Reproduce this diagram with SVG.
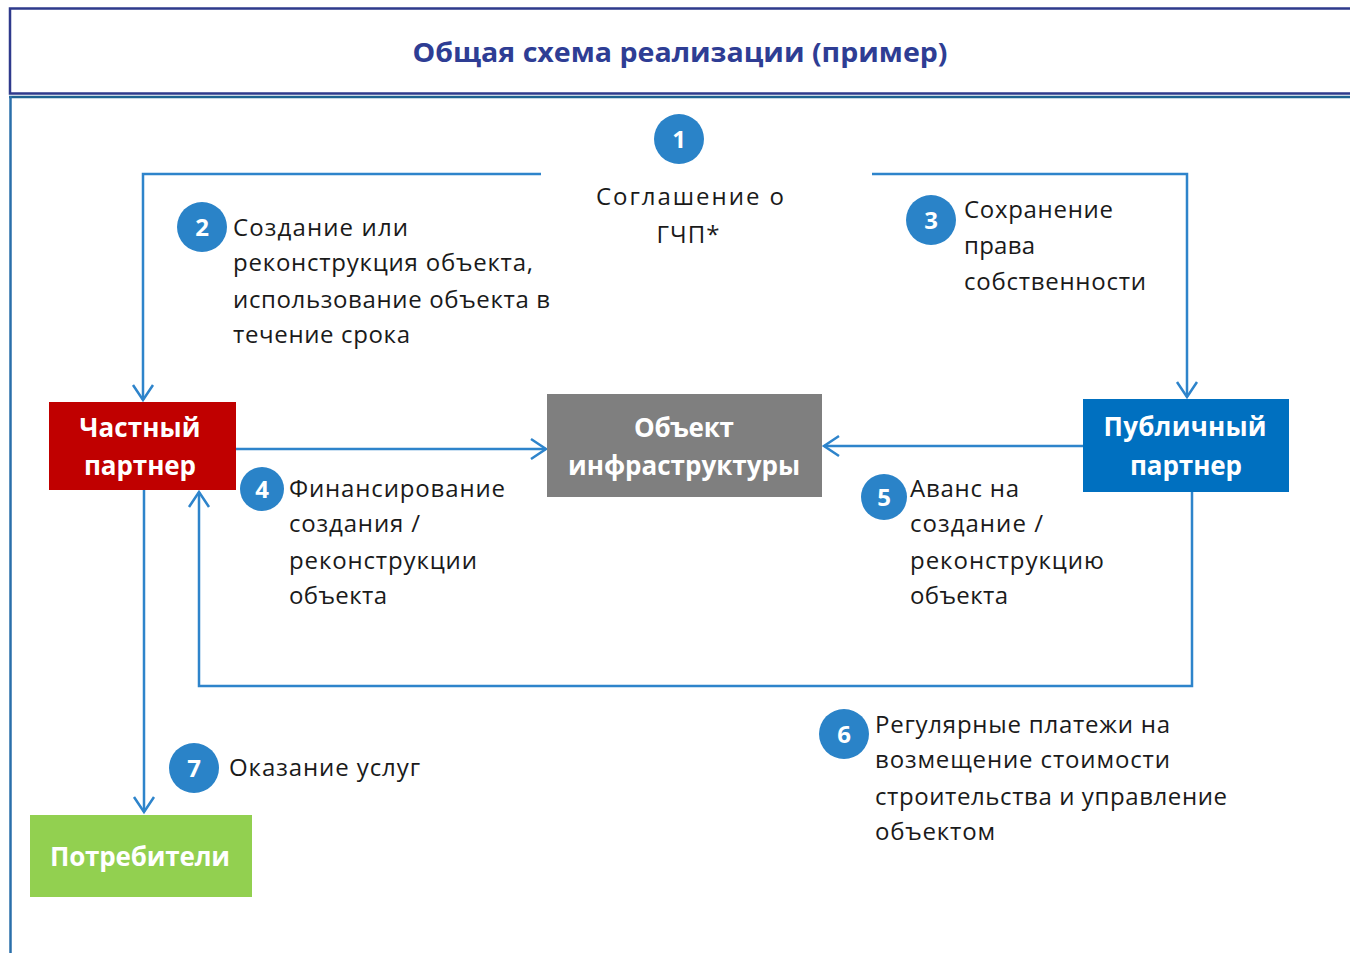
<svg xmlns="http://www.w3.org/2000/svg" width="1350" height="953" viewBox="0 0 1350 953">
<style>
.lbl{font-family:"Open Sans","Noto Sans","DejaVu Sans",sans-serif;font-size:24px;fill:#1a1a1a}
.node{font-family:"Open Sans","Noto Sans","DejaVu Sans",sans-serif;font-size:26px;font-weight:bold;fill:#ffffff;text-anchor:middle}
.num{font-family:"Open Sans","Noto Sans","DejaVu Sans",sans-serif;font-size:24px;font-weight:bold;fill:#ffffff;text-anchor:middle}
.badge{fill:#2A83C8}
.conn{fill:none;stroke:#2E84CB;stroke-width:2.5}
</style>
<defs>
<marker id="arr" viewBox="-17 -12 20 24" refX="0" refY="0" markerWidth="20" markerHeight="24" markerUnits="userSpaceOnUse" orient="auto">
<path d="M-15,-10 L0,0 L-15,10" fill="none" stroke="#2E84CB" stroke-width="2.5"/>
</marker>
</defs>
<rect width="1350" height="953" fill="#ffffff"/>
<g id="frame">
<path d="M1350,8.5 H10 V93.5 H1350" fill="none" stroke="#2E3A8C" stroke-width="2.5"/>
<line x1="9" y1="97" x2="1350" y2="97" stroke="#1F6391" stroke-width="2.5"/>
<line x1="10.5" y1="96" x2="10.5" y2="953" stroke="#2A6FAA" stroke-width="2.5"/>
<text x="680" y="62" text-anchor="middle" textLength="535" lengthAdjust="spacingAndGlyphs" font-family="'Open Sans','Noto Sans',sans-serif" font-size="27" font-weight="bold" fill="#2E3D94">Общая схема реализации (пример)</text>
</g>
<g id="connectors">
<path class="conn" d="M541,174 H143 V400" marker-end="url(#arr)"/>
<path class="conn" d="M872,174 H1187 V397" marker-end="url(#arr)"/>
<path class="conn" d="M236,449 H546" marker-end="url(#arr)"/>
<path class="conn" d="M1083,446 H824" marker-end="url(#arr)"/>
<path class="conn" d="M1192,492 V686 H199 V492" marker-end="url(#arr)"/>
<path class="conn" d="M144,490 V812" marker-end="url(#arr)"/>
</g>
<g id="private-partner">
<rect x="49" y="402" width="187" height="88" fill="#C00000"/>
<text class="node" x="140" y="437" textLength="121">Частный</text>
<text class="node" x="140" y="475" textLength="112">партнер</text>
</g>
<g id="infrastructure">
<rect x="547" y="394" width="275" height="103" fill="#7F7F7F"/>
<text class="node" x="684" y="437" textLength="100">Объект</text>
<text class="node" x="684" y="475" textLength="232">инфраструктуры</text>
</g>
<g id="public-partner">
<rect x="1083" y="399" width="206" height="93" fill="#0070C0"/>
<text class="node" x="1185" y="436" textLength="163">Публичный</text>
<text class="node" x="1186" y="475" textLength="112">партнер</text>
</g>
<g id="consumers">
<rect x="30" y="815" width="222" height="82" fill="#92D050"/>
<text class="node" x="140" y="866" textLength="180">Потребители</text>
</g>
<g id="label-1">
<circle class="badge" cx="679" cy="139" r="25"/>
<text class="num" x="679" y="148">1</text>
<text class="lbl" x="690" y="205" text-anchor="middle" textLength="188">Соглашение  о</text>
<text class="lbl" x="688" y="243" text-anchor="middle" textLength="63">ГЧП*</text>
</g>
<g id="label-2">
<circle class="badge" cx="202" cy="227" r="25"/>
<text class="num" x="202" y="236">2</text>
<text class="lbl" x="233" y="236" textLength="175">Создание или</text>
<text class="lbl" x="233" y="271" textLength="300">реконструкция объекта,</text>
<text class="lbl" x="233" y="308" textLength="317">использование объекта в</text>
<text class="lbl" x="233" y="343" textLength="177">течение срока</text>
</g>
<g id="label-3">
<circle class="badge" cx="931" cy="220" r="25"/>
<text class="num" x="931" y="229">3</text>
<text class="lbl" x="964" y="218" textLength="149">Сохранение</text>
<text class="lbl" x="964" y="254" textLength="71">права</text>
<text class="lbl" x="964" y="290" textLength="182">собственности</text>
</g>
<g id="label-4">
<circle class="badge" cx="262" cy="489" r="22"/>
<text class="num" x="262" y="498">4</text>
<text class="lbl" x="289" y="497" textLength="216">Финансирование</text>
<text class="lbl" x="289" y="532" textLength="131">создания /</text>
<text class="lbl" x="289" y="569" textLength="188">реконструкции</text>
<text class="lbl" x="289" y="604" textLength="98">объекта</text>
</g>
<g id="label-5">
<circle class="badge" cx="884" cy="497" r="23"/>
<text class="num" x="884" y="506">5</text>
<text class="lbl" x="910" y="497" textLength="109">Аванс на</text>
<text class="lbl" x="910" y="532" textLength="133">создание /</text>
<text class="lbl" x="910" y="569" textLength="194">реконструкцию</text>
<text class="lbl" x="910" y="604" textLength="98">объекта</text>
</g>
<g id="label-6">
<circle class="badge" cx="844" cy="734" r="25"/>
<text class="num" x="844" y="743">6</text>
<text class="lbl" x="875" y="733" textLength="295">Регулярные платежи на</text>
<text class="lbl" x="875" y="768" textLength="295">возмещение стоимости</text>
<text class="lbl" x="875" y="805" textLength="352">строительства и управление</text>
<text class="lbl" x="875" y="840" textLength="120">объектом</text>
</g>
<g id="label-7">
<circle class="badge" cx="194" cy="768" r="25"/>
<text class="num" x="194" y="777">7</text>
<text class="lbl" x="229" y="776" textLength="191">Оказание услуг</text>
</g>
</svg>
